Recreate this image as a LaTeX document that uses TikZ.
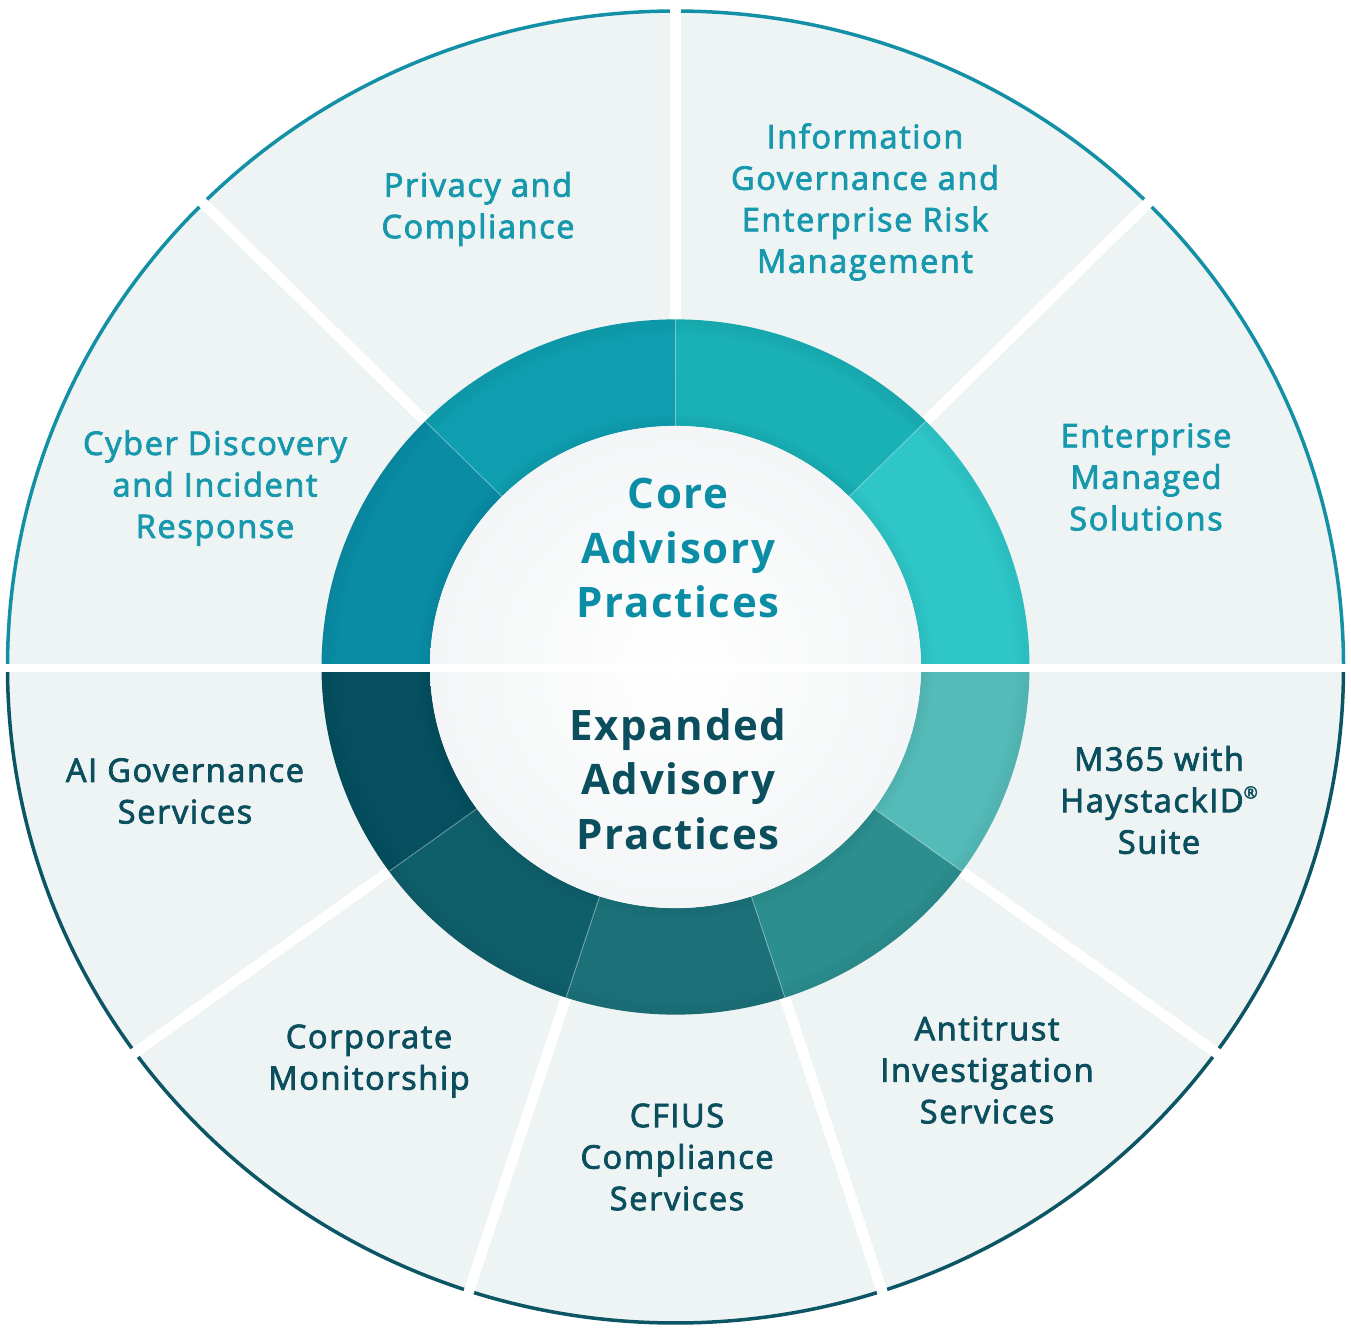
\documentclass[tikz,border=0pt]{standalone}
\usepackage{fontspec}
\setmainfont{Open Sans}
\newfontfamily\labelfont{Open Sans}[FakeBold=2.5, LetterSpace=5]
\newfontfamily\titlefont{Open Sans}[LetterSpace=4]
\definecolor{sectorbg}{HTML}{EEF4F4}
\definecolor{topstroke}{HTML}{1490A6}
\definecolor{botstroke}{HTML}{0B5564}
\definecolor{ringA}{HTML}{2EC6C8}
\definecolor{ringB}{HTML}{19B0B6}
\definecolor{ringC}{HTML}{0F9EAF}
\definecolor{ringD}{HTML}{0A8CA5}
\definecolor{ringE}{HTML}{054F5F}
\definecolor{ringF}{HTML}{0F5F6B}
\definecolor{ringG}{HTML}{1C7179}
\definecolor{ringH}{HTML}{2C8E8E}
\definecolor{ringI}{HTML}{55BBB9}
\definecolor{toptext}{HTML}{1798AD}
\definecolor{coretext}{HTML}{0B8EA5}
\definecolor{bottext}{HTML}{0B4E5D}
\definecolor{centerout}{HTML}{F3F5F6}
\begin{document}
\begin{tikzpicture}[x=1pt,y=1pt,
  gapline/.style={white, line width=10.5pt},
  hgapline/.style={white, line width=8pt},
  ringdiv/.style={white, opacity=0.3, line width=1pt},
  toplabel/.style={font=\labelfont\fontsize{32.5}{41.5}\selectfont, text=toptext, align=center, inner sep=0pt},
  botlabel/.style={font=\labelfont\fontsize{32.5}{41.5}\selectfont, text=bottext, align=center, inner sep=0pt},
  coretitle/.style={font=\titlefont\bfseries\fontsize{42}{54.5}\selectfont, text=coretext, align=center, inner sep=0pt},
  exptitle/.style={font=\titlefont\bfseries\fontsize{42}{54.5}\selectfont, text=bottext, align=center, inner sep=0pt}]
\useasboundingbox (0,0) rectangle (1351,-1327);
\fill[white] (0,0) rectangle (1351,-1327);
\begin{scope}[shift={(675.5,-667)}, yscale=0.982]
  % outer sectors
  \fill[sectorbg] (0,0) circle (668);
  \draw[topstroke, line width=3.5pt] (0:668) arc[start angle=0, end angle=180, radius=668];
  \draw[botstroke, line width=3.5pt] (180:668) arc[start angle=180, end angle=360, radius=668];
  \foreach \a in {45,90,135,216,252,288,324}
    \draw[gapline] (\a:300) -- (\a:690);
  % inner ring segments
  \foreach \a/\b/\c in {0/45/ringA, 45/90/ringB, 90/135/ringC, 135/180/ringD,
                        180/216/ringE, 216/252/ringF, 252/288/ringG, 288/324/ringH, 324/360/ringI}
    \fill[\c] (\a:245.5) arc[start angle=\a, end angle=\b, radius=245.5]
      -- (\b:354) arc[start angle=\b, end angle=\a, radius=354] -- cycle;
  % soft inner shadows of the ring
  \foreach \k in {0,...,9} {
    \pgfmathsetmacro{\op}{0.045*(1-\k/10)}
    \pgfmathsetmacro{\rr}{354-0.8-\k*1.6}
    \pgfmathsetmacro{\ri}{245.5+0.8+\k*1.2}
    \draw[black, opacity=\op, line width=1.6pt] (0,0) circle (\rr);
    \draw[black, opacity=\op, line width=1.2pt] (0,0) circle (\ri);
  }
  \foreach \a in {0,45,90,135,180,216,252,288,324}
    \draw[ringdiv] (\a:245.5) -- (\a:354);
  % centre disc
  \shade[inner color=white, outer color=centerout] (0,0) circle (245.5);
\end{scope}
\draw[hgapline] (0,-668) -- (1351,-668);
% centre titles
\node[coretitle] (core) at (678,-548) {Core\\Advisory\\Practices};
\node[exptitle] (expanded) at (678,-779) {Expanded\\Advisory\\Practices};
% top labels
\node[toplabel] (privacy) at (478,-209) {Privacy and\\Compliance};
\node[toplabel] (infogov) at (865,-202) {Information\\Governance and\\Enterprise Risk\\Management};
\node[toplabel] (ems) at (1146,-477) {Enterprise\\Managed\\Solutions};
\node[toplabel] (cyber) at (215,-488) {Cyber Discovery\\and Incident\\Response};
% bottom labels
\node[botlabel] (aigov) at (185,-791) {AI Governance\\Services};
\node[botlabel] (corpmon) at (369,-1061) {Corporate\\Monitorship};
\node[botlabel] (cfius) at (677,-1157) {CFIUS\\Compliance\\Services};
\node[botlabel] (antitrust) at (987,-1070) {Antitrust\\Investigation\\Services};
\node[botlabel] (m365) at (1159,-800) {M365 with\\HaystackID\raisebox{0.42em}{\fontsize{17}{17}\selectfont ®}\\Suite};
\end{tikzpicture}
\end{document}
